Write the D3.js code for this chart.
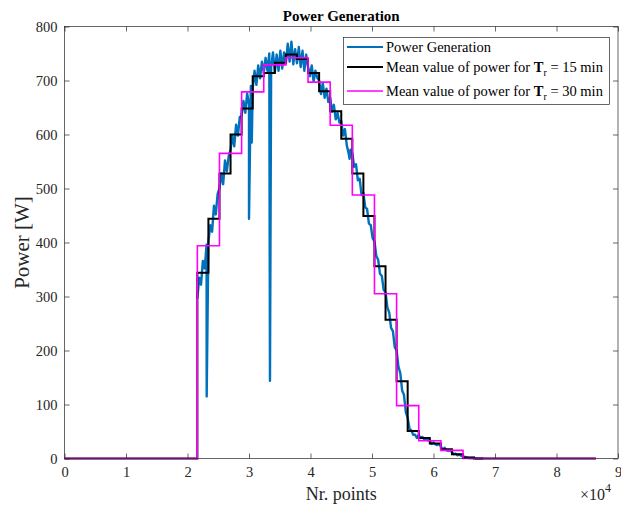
<!DOCTYPE html>
<html>
<head>
<meta charset="utf-8">
<script src="https://cdn.jsdelivr.net/npm/d3@7"></script>
<style>
  body { margin: 0; background: #fff; }
  svg text { font-family: "Liberation Serif", "Times New Roman", serif; fill: #262626; }
</style>
</head>
<body>
<svg id="canvas"></svg>
<script>
// power samples, one every 300 points starting at 21600
let blueStart = 21600
let blueStep = 300
let powerValues = [
    296, 335, 322, 366, 352, 396,
    402, 432, 420, 468, 452, 490,
    500, 528, 508, 552, 532, 560,
    572, 598, 578, 618, 598, 632,
    635, 662, 640, 676, 655, 690,
    685, 718, 692, 728, 704, 735,
    715, 742, 718, 750, 725, 752,
    715, 748, 718, 755, 722, 752,
    732, 768, 735, 772, 730, 758,
    732, 762, 725, 755, 718, 748,
    725, 708, 728, 698, 718, 705,
    700, 675, 695, 668, 685, 660,
    668, 642, 655, 628, 640, 622,
    625, 598, 610, 580, 565, 572,
    565, 540, 545, 515, 518, 488,
    492, 465, 462, 435, 432, 408,
    402, 375, 368, 342, 338, 312,
    308, 280, 270, 242, 236, 206,
    200, 170, 158, 126, 118, 86,
    75, 55, 52, 44, 44, 38,
    44, 38, 40, 35, 36, 34,
    33, 27, 30, 26, 25, 27,
    22, 16, 20, 15, 14, 15,
    12, 8, 9, 6, 7, 5,
    4, 3, 2, 1, 1, 1,
    1, 0, 0, 0, 0, 0
]
// narrow drops in the measured power [point, value]
let spikes = [[23120, 115], [30000, 444], [30450, 585], [33410, 144], [46350, 555]]

// mean values
let meanStart = 21600
let mean15Width = 1800
let mean15 = [344, 444, 528, 600, 648, 708, 714, 733, 748, 740, 714, 680, 643, 592, 528, 449, 356, 257, 143, 51, 38, 28, 17, 8, 2]
let mean30Width = 3600
let mean30 = [394, 565, 679, 729, 742, 697, 617, 488, 305, 98, 33, 15]
let lastPoint = 86400

let xTicks = [0, 1, 2, 3, 4, 5, 6, 7, 8, 9]
let yTicks = [0, 100, 200, 300, 400, 500, 600, 700, 800]

let width = 621
let height = 507
let padLeft = 64.5
let padRight = 618
let padTop = 26.5
let padBottom = 458.5

let canvas = d3.select("#canvas").attr("width", width).attr("height", height)

let xScale = d3.scaleLinear().domain([0, 90000]).range([padLeft, padRight])
let yScale = d3.scaleLinear().domain([0, 800]).range([padBottom, padTop])

// build series
let bluePoints = powerValues.map((v, i) => [blueStart + i * blueStep, v])
spikes.forEach(s => bluePoints.push(s))
bluePoints.sort((a, b) => a[0] - b[0])

let stepPoints = (vals, w) => {
    let pts = [[0, 0]]
    vals.forEach((v, i) => pts.push([meanStart + i * w, v]))
    pts.push([meanStart + vals.length * w, 0])
    pts.push([lastPoint, 0])
    return pts
}

let line = d3.line().x(d => xScale(d[0])).y(d => yScale(d[1]))
let stepLine = d3.line().x(d => xScale(d[0])).y(d => yScale(d[1])).curve(d3.curveStepAfter)

canvas.append("rect")
    .attr("x", padLeft).attr("y", padTop)
    .attr("width", padRight - padLeft).attr("height", padBottom - padTop)
    .attr("fill", "#fff")

let plot = canvas.append("g")

plot.append("path")
    .attr("d", line(bluePoints))
    .attr("fill", "none")
    .attr("stroke", "#0072BD")
    .attr("stroke-width", 2.4)
    .attr("stroke-linejoin", "round")

plot.append("path")
    .attr("d", stepLine(stepPoints(mean15, mean15Width)))
    .attr("fill", "none")
    .attr("stroke", "#000")
    .attr("stroke-width", 2)

plot.append("path")
    .attr("d", stepLine(stepPoints(mean30, mean30Width)))
    .attr("fill", "none")
    .attr("stroke", "#FF00FF")
    .attr("stroke-width", 1.6)

// axes
let xAxis = d3.axisBottom(xScale)
    .tickValues(xTicks.map(t => t * 10000))
    .tickFormat(d => d / 10000)
    .tickSizeInner(-5).tickSizeOuter(0).tickPadding(8)

let yAxis = d3.axisLeft(yScale)
    .tickValues(yTicks)
    .tickSizeInner(-5).tickSizeOuter(0).tickPadding(7)

let styleAxis = (g) => {
    g.attr("font-family", null)
    g.select(".domain").remove()
    g.selectAll(".tick line").attr("stroke", "#262626").attr("stroke-width", 0.7)
    g.selectAll(".tick text").style("font-size", "14.5px").attr("fill", "#262626")
}

canvas.append("g")
    .attr("transform", "translate(0," + padBottom + ")")
    .call(xAxis).call(styleAxis)

canvas.append("g")
    .attr("transform", "translate(" + padLeft + ",0)")
    .call(yAxis).call(styleAxis)

canvas.append("g")
    .attr("transform", "translate(0," + padTop + ")")
    .call(d3.axisTop(xScale).tickValues(xTicks.map(t => t * 10000)).tickFormat("").tickSizeInner(-5).tickSizeOuter(0))
    .call(styleAxis)

canvas.append("g")
    .attr("transform", "translate(" + padRight + ",0)")
    .call(d3.axisRight(yScale).tickValues(yTicks).tickFormat("").tickSizeInner(-5).tickSizeOuter(0))
    .call(styleAxis)

canvas.append("rect")
    .attr("x", padLeft).attr("y", padTop)
    .attr("width", padRight - padLeft).attr("height", padBottom - padTop)
    .attr("fill", "none")
    .attr("stroke", "#262626")
    .attr("stroke-width", 0.7)

// labels
canvas.append("text")
    .attr("x", (padLeft + padRight) / 2).attr("y", 21)
    .attr("text-anchor", "middle")
    .style("font-size", "15px").style("font-weight", "bold")
    .style("fill", "#000")
    .text("Power Generation")

canvas.append("text")
    .attr("x", (padLeft + padRight) / 2).attr("y", 500)
    .attr("text-anchor", "middle")
    .style("font-size", "18px")
    .text("Nr. points")

canvas.append("text")
    .attr("transform", "translate(29," + ((padTop + padBottom) / 2) + ") rotate(-90)")
    .attr("text-anchor", "middle")
    .style("font-size", "21px")
    .text("Power [W]")

let expo = canvas.append("text")
    .attr("x", 580).attr("y", 500)
    .style("font-size", "16px")
expo.append("tspan").text("×10")
expo.append("tspan").attr("dy", -8).style("font-size", "12px").text("4")

// legend
let legendItems = [
    { color: "#0072BD", width: 1.8, pre: "Power Generation", sub: "", post: "" },
    { color: "#000", width: 2, pre: "Mean value of power for ", sub: "r", post: " = 15 min" },
    { color: "#FF00FF", width: 1.6, pre: "Mean value of power for ", sub: "r", post: " = 30 min" }
]
let legendY = [47, 67, 91]

let legend = canvas.append("g")
legend.append("rect")
    .attr("x", 343.5).attr("y", 37.5)
    .attr("width", 266).attr("height", 67)
    .attr("fill", "#fff")
    .attr("stroke", "#262626")
    .attr("stroke-width", 0.7)

legendItems.forEach((item, i) => {
    legend.append("line")
        .attr("x1", 347).attr("x2", 383)
        .attr("y1", legendY[i]).attr("y2", legendY[i])
        .attr("stroke", item.color)
        .attr("stroke-width", item.width)
    let t = legend.append("text")
        .attr("x", 386).attr("y", legendY[i] + 4.5)
        .style("font-size", "14.5px")
        .style("fill", "#000")
    t.append("tspan").text(item.pre)
    if (item.sub) {
        t.append("tspan").style("font-weight", "bold").text("T")
        t.append("tspan").attr("dy", 4).style("font-size", "10px").text(item.sub)
        t.append("tspan").attr("dy", -4).text(item.post)
    }
})
</script>
</body>
</html>
